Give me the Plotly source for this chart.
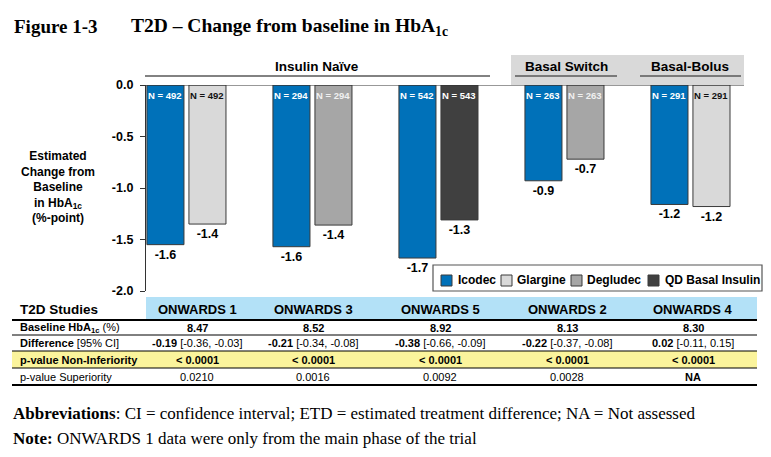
import plotly.graph_objects as go

# ---------------- data ----------------
groups = ["ONWARDS 1", "ONWARDS 3", "ONWARDS 5", "ONWARDS 2", "ONWARDS 4"]
icodec_vals = [-1.55, -1.57, -1.68, -0.93, -1.16]
icodec_labels = ["-1.6", "-1.6", "-1.7", "-0.9", "-1.2"]
icodec_n = ["N = 492", "N = 294", "N = 542", "N = 263", "N = 291"]

comp_series = ["Glargine", "Degludec", "QD Basal Insulin"]
comp_group = {"Glargine": [0, 4], "Degludec": [1, 3], "QD Basal Insulin": [2]}
comp_vals = {"Glargine": [-1.35, -1.18], "Degludec": [-1.36, -0.72], "QD Basal Insulin": [-1.31]}
comp_labels = {"Glargine": ["-1.4", "-1.2"], "Degludec": ["-1.4", "-0.7"], "QD Basal Insulin": ["-1.3"]}
comp_n = {"Glargine": ["N = 492", "N = 291"], "Degludec": ["N = 294", "N = 263"], "QD Basal Insulin": ["N = 543"]}

y_ticks = [0.0, -0.5, -1.0, -1.5, -2.0]
y_tick_text = ["0.0", "-0.5", "-1.0", "-1.5", "-2.0"]

section_labels = ["Insulin Naïve", "Basal Switch", "Basal-Bolus"]

row_labels = ["<b>Baseline HbA<sub>1c</sub></b> (%)", "<b>Difference</b> [95% CI]",
              "<b>p-value Non-Inferiority</b>", "p-value Superiority"]
baseline = ["8.47", "8.52", "8.92", "8.13", "8.30"]
diff_est = ["-0.19", "-0.21", "-0.38", "-0.22", "0.02"]
diff_ci = ["[-0.36, -0.03]", "[-0.34, -0.08]", "[-0.66, -0.09]", "[-0.37, -0.08]", "[-0.11, 0.15]"]
p_noninf = ["< 0.0001"] * 5
p_sup = ["0.0210", "0.0016", "0.0092", "0.0028", "NA"]

# ---------------- styles ----------------
colors = {"Icodec": "#0071b9", "Glargine": "#d9d9d9", "Degludec": "#a6a6a6", "QD Basal Insulin": "#404040"}
n_colors = {"Icodec": "#ffffff", "Glargine": "#111111", "Degludec": "#f0f0f0", "QD Basal Insulin": "#ffffff"}
FONT = "Arial, Liberation Sans, sans-serif"
SERIF = "Times New Roman, Liberation Serif, serif"

# page has an 8px body margin: figure is placed at (8, 8)
OFS = 8
W, H = 771 - OFS, 457 - OFS
# plot area in reference (window) pixels
L, R, T, B = 146, 757, 85, 291
BW = 0.294
OFF = 0.1667


def px(x):
    return (x - L) / (R - L)


def py(y):
    return (B - y) / (B - T)


fig = go.Figure()

xs_ic = list(range(len(groups)))
fig.add_trace(go.Bar(
    x=xs_ic, y=icodec_vals, width=BW, offset=-OFF - BW / 2,
    marker=dict(color=colors["Icodec"], line=dict(color="#3a3a3a", width=1)),
    text=icodec_labels, textposition="outside", cliponaxis=False,
    textfont=dict(family=FONT, size=12.5, color="black", weight="bold"),
    name="Icodec", showlegend=False))
for s in comp_series:
    fig.add_trace(go.Bar(
        x=comp_group[s], y=comp_vals[s], width=BW, offset=OFF - BW / 2,
        marker=dict(color=colors[s], line=dict(color="#3a3a3a", width=1)),
        text=comp_labels[s], textposition="outside", cliponaxis=False,
        textfont=dict(family=FONT, size=12.5, color="black", weight="bold"),
        name=s, showlegend=False))

ann = []
shapes = []

# N labels inside bar tops
for i, n in zip(xs_ic, icodec_n):
    ann.append(dict(x=i - OFF, y=0, xref="x", yref="y", yanchor="top", yshift=-3,
                    text=n, showarrow=False,
                    font=dict(family=FONT, size=9.5, color=n_colors["Icodec"], weight="bold")))
for s in comp_series:
    for i, n in zip(comp_group[s], comp_n[s]):
        ann.append(dict(x=i + OFF, y=0, xref="x", yref="y", yanchor="top", yshift=-3,
                        text=n, showarrow=False,
                        font=dict(family=FONT, size=9.5, color=n_colors[s], weight="bold")))

# title
ann.append(dict(x=px(12), y=py(27), xref="paper", yref="paper", xanchor="left", yanchor="middle",
                text="<b>Figure 1-3</b>", showarrow=False, font=dict(family=SERIF, size=19, color="black")))
ann.append(dict(x=px(129), y=py(27), xref="paper", yref="paper", xanchor="left", yanchor="middle",
                text="<b>T2D – Change from baseline in HbA<sub>1c</sub></b>", showarrow=False,
                font=dict(family=SERIF, size=19.5, color="black")))

# section headers
shapes.append(dict(type="rect", xref="paper", yref="paper", x0=px(511), x1=px(744), y0=py(85), y1=py(55),
                   fillcolor="#d9d9d9", line=dict(width=0), layer="below"))
for lab, cx, x0, x1 in zip(section_labels, [317, 566, 690], [145, 515, 640], [490, 617, 741]):
    ann.append(dict(x=px(cx), y=py(66), xref="paper", yref="paper", xanchor="center", yanchor="middle",
                    text="<b>" + lab + "</b>", showarrow=False, font=dict(family=FONT, size=13.5, color="black")))
    shapes.append(dict(type="line", xref="paper", yref="paper", x0=px(x0), x1=px(x1), y0=py(76), y1=py(76),
                       line=dict(color="#595959", width=1.5)))

# zero line at top
shapes.append(dict(type="line", xref="paper", yref="y", x0=0, x1=px(744), y0=0, y1=0,
                   line=dict(color="#333333", width=1.2)))

# y axis title
ann.append(dict(x=px(58), y=py(187), xref="paper", yref="paper", xanchor="center", yanchor="middle",
                text="<b>Estimated<br>Change from<br>Baseline<br>in HbA<sub>1c</sub><br>(%-point)</b>",
                showarrow=False, align="center", font=dict(family=FONT, size=12, color="black")))

# legend (manual)
shapes.append(dict(type="rect", xref="paper", yref="paper", x0=px(433), x1=px(762), y0=py(291), y1=py(265),
                   fillcolor="white", line=dict(color="#555555", width=1.2)))
for s, sx, tx in zip(["Icodec"] + comp_series, [441, 501, 571, 648], [456, 515, 585, 663]):
    shapes.append(dict(type="rect", xref="paper", yref="paper", x0=px(sx), x1=px(sx + 11), y0=py(286), y1=py(275),
                       fillcolor=colors[s], line=dict(color="#3a3a3a", width=1)))
    ann.append(dict(x=px(tx), y=py(280), xref="paper", yref="paper", xanchor="left", yanchor="middle",
                    text="<b>" + s + "</b>", showarrow=False, font=dict(family=FONT, size=12, color="black")))

# ---------------- table ----------------
col_x = [197, 313, 440, 567, 693]
shapes.append(dict(type="rect", xref="paper", yref="paper", x0=px(146), x1=px(757), y0=py(320), y1=py(297),
                   fillcolor="#b3e1f7", line=dict(width=0), layer="below"))
shapes.append(dict(type="rect", xref="paper", yref="paper", x0=px(12), x1=px(757), y0=py(368), y1=py(351),
                   fillcolor="#fbf49c", line=dict(width=0), layer="below"))
for yy, w in [(320, 2), (335, 1), (351, 1), (368, 1), (385, 2)]:
    shapes.append(dict(type="line", xref="paper", yref="paper", x0=px(12), x1=px(757), y0=py(yy), y1=py(yy),
                       line=dict(color="black", width=w)))

ann.append(dict(x=px(18), y=py(309), xref="paper", yref="paper", xanchor="left", yanchor="middle",
                text="<b>T2D Studies</b>", showarrow=False, font=dict(family=FONT, size=13.5, color="black")))
for g, cx in zip(groups, col_x):
    ann.append(dict(x=px(cx), y=py(309), xref="paper", yref="paper", xanchor="center", yanchor="middle",
                    text="<b>" + g + "</b>", showarrow=False, font=dict(family=FONT, size=13, color="black")))

row_y = [327.5, 343, 359.5, 376.5]
for lab, ry in zip(row_labels, row_y):
    ann.append(dict(x=px(18), y=py(ry), xref="paper", yref="paper", xanchor="left", yanchor="middle",
                    text=lab, showarrow=False, font=dict(family=FONT, size=11, color="black")))

row_texts = [
    ["<b>" + v + "</b>" for v in baseline],
    ["<b>" + e + "</b> " + c for e, c in zip(diff_est, diff_ci)],
    ["<b>" + p + "</b>" for p in p_noninf],
    [("<b>" + p + "</b>") if p == "NA" else p for p in p_sup],
]
for texts, ry in zip(row_texts, row_y):
    for t, cx in zip(texts, col_x):
        ann.append(dict(x=px(cx), y=py(ry), xref="paper", yref="paper", xanchor="center", yanchor="middle",
                        text=t, showarrow=False, font=dict(family=FONT, size=11, color="black")))

# footer
ann.append(dict(x=px(11), y=py(413), xref="paper", yref="paper", xanchor="left", yanchor="middle",
                text="<b>Abbreviations</b>: CI = confidence interval; ETD = estimated treatment difference; NA = Not assessed",
                showarrow=False, font=dict(family=SERIF, size=17, color="black")))
ann.append(dict(x=px(11), y=py(438), xref="paper", yref="paper", xanchor="left", yanchor="middle",
                text="<b>Note:</b> ONWARDS 1 data were only from the main phase of the trial",
                showarrow=False, font=dict(family=SERIF, size=17, color="black")))

fig.update_layout(
    width=W, height=H,
    margin=dict(l=L - OFS, r=W - (R - OFS), t=T - OFS, b=H - (B - OFS), pad=0),
    paper_bgcolor="white", plot_bgcolor="white",
    barmode="overlay", showlegend=False,
    annotations=ann, shapes=shapes,
    xaxis=dict(range=[-0.321, 4.528], visible=False, fixedrange=True),
    yaxis=dict(range=[-2.0, 0.0], tickvals=y_ticks, ticktext=y_tick_text,
               showline=True, linecolor="#333333", linewidth=1.2,
               ticks="outside", ticklen=5, tickcolor="#333333", ticklabelstandoff=4,
               tickfont=dict(family=FONT, size=12.5, color="black", weight="bold"),
               showgrid=False, zeroline=False, fixedrange=True),
)

fig.write_html("out.html")
